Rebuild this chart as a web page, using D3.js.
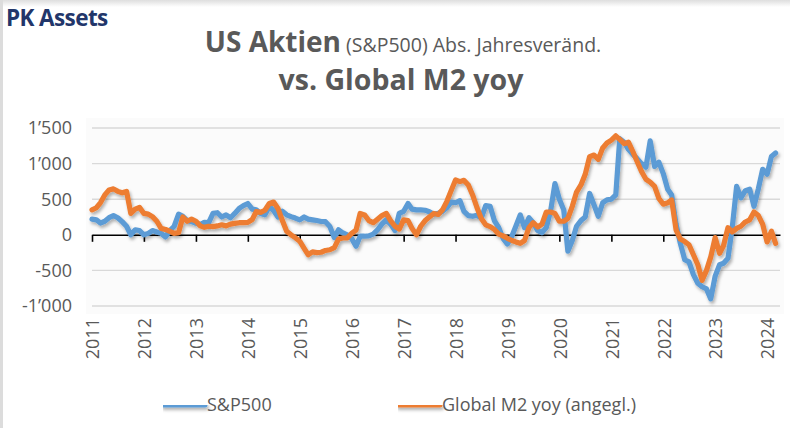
<!DOCTYPE html>
<html>
<head>
<meta charset="utf-8">
<script src="https://cdn.jsdelivr.net/npm/d3@7"></script>
<style>
  html, body { margin: 0; padding: 0; background: #fff; }
  svg { display: block; font-family: "Open Sans", sans-serif; }
</style>
</head>
<body>
<svg id="chart" width="790" height="428"></svg>
<script>
// monthly values, first point Jan 2011
const startMonth = new Date(2011, 0, 1);
const yearTicks = d3.range(2011, 2025);
const yTicks = [-1000, -500, 0, 500, 1000, 1500];

const sp500 = [
  220, 210, 165, 190, 240, 270, 240, 185, 120, 0, 70, 60,
  0, 20, 60, 40, 20, -30, 60, 120, 290, 260, 200, 185,
  163, 145, 175, 170, 300, 310, 250, 280, 240, 300, 370, 410,
  440, 360, 350, 300, 280, 400, 340, 250, 330, 280, 255, 235,
  210, 250, 220, 210, 200, 187, 185, 117, -40, 70, 25, 0,
  -50, -160, -20, -20, -15, 10, 70, 150, 210, 150, 60, 300,
  330, 440, 360, 350, 350, 345, 325, 290, 300, 330, 380, 460,
  450, 480, 330, 270, 260, 275, 235, 410, 400, 200, 100, -50,
  -130, -20, 120, 280, 100, 240, 170, 60, 30, 100, 340, 720,
  500, 350, -230, -80, 120, 200, 250, 580, 420, 260, 450, 490,
  500, 560, 1350, 1300, 1200, 1130, 1070, 1000, 950, 1320, 960, 1020,
  860, 640, 560, 150, -120, -350, -380, -560, -680, -730, -760, -900,
  -580, -420, -400, -330, 100, 680, 520, 620, 640, 400, 650, 920,
  850, 1100, 1150
];

const globalM2 = [
  350, 380, 450, 560, 630, 645, 610, 590, 610, 300, 360, 385,
  300, 290, 255, 190, 90, 75, 50, 20, 30, 250, 190, 220,
  190, 125, 105, 120, 115, 125, 140, 125, 150, 160, 170, 170,
  175, 215, 325, 315, 345, 440, 460, 370, 200, 50, 0, -40,
  -90, -190, -280, -240, -250, -245, -220, -210, -180, -60, -45, -45,
  20, 65, 300, 280, 200, 170, 220, 270, 300, 200, 120, 80,
  210, 200, 90, 0, 120, 200, 250, 300, 285, 350, 470, 620,
  770, 747, 765, 700, 560, 380, 230, 140, 115, 75, 10, -15,
  -50, -80, -100, -120, -80, 100, 170, 110, 150, 320, 320, 300,
  190, 190, 230, 400, 600, 700, 850, 1097, 1120, 1060, 1220, 1290,
  1330, 1390, 1340, 1280, 1300, 1170, 1030, 890, 780, 740, 680, 510,
  430, 450, 490, 70, -60, -95, -140, -280, -420, -640, -500, -310,
  -40, -260, -150, 100, 40, 90, 120, 180, 210, 320, 270, 150,
  -100, 50, -120
];

const seriesNames = ['S&P500', 'Global M2 yoy (angegl.)'];
const seriesColors = ['#5b9bd5', '#ed7d31'];

const svg = d3.select('#chart');
const textGrey = '#595959';

const locale = d3.formatLocale({
  decimal: '.', thousands: '\u2019', grouping: [3], currency: ['', ''], minus: '-'
});
const fmt = locale.format(',d');

// frame
const defs = svg.append('defs');
const topGrad = defs.append('linearGradient')
  .attr('id', 'topGrad').attr('x1', 0).attr('x2', 0).attr('y1', 0).attr('y2', 1);
topGrad.append('stop').attr('offset', '0%').attr('stop-color', '#dedede');
topGrad.append('stop').attr('offset', '100%').attr('stop-color', '#ffffff');
svg.append('rect').attr('x', 0).attr('y', 0).attr('width', 790).attr('height', 7)
  .attr('fill', 'url(#topGrad)');
svg.append('rect').attr('x', 0).attr('y', 0).attr('width', 3).attr('height', 428)
  .attr('fill', '#dcdcdc');

const shadow = defs.append('filter').attr('id', 'shadow')
  .attr('filterUnits', 'userSpaceOnUse')
  .attr('x', 0).attr('y', 0).attr('width', 790).attr('height', 428);
shadow.append('feDropShadow')
  .attr('dx', 1.5).attr('dy', 2.5).attr('stdDeviation', 1.6)
  .attr('flood-color', '#000').attr('flood-opacity', 0.3);

// scales
const x = d3.scaleTime()
  .domain([startMonth, new Date(2024, 3, 1)])
  .range([92, 780]);
const y = d3.scaleLinear()
  .domain([-1000, 1500])
  .range([306, 128]);

const monthDate = i => d3.timeMonth.offset(startMonth, i);

// plot background
svg.append('rect')
  .attr('x', 86).attr('y', 118).attr('width', 698).attr('height', 196)
  .attr('fill', '#fbfbfb');

// titles
svg.append('text')
  .attr('x', 6).attr('y', 26)
  .attr('font-size', 22.5).attr('font-weight', 700)
  .attr('letter-spacing', -0.6)
  .attr('fill', '#22366a')
  .text('PK Assets');

const t1 = svg.append('text')
  .attr('x', 403).attr('y', 52)
  .attr('text-anchor', 'middle')
  .attr('fill', textGrey);
t1.append('tspan').attr('font-size', 28).attr('font-weight', 700).text('US Aktien');
t1.append('tspan').attr('font-size', 19.5).text(' (S&P500) Abs. Jahresveränd.');

svg.append('text')
  .attr('x', 401).attr('y', 90)
  .attr('text-anchor', 'middle')
  .attr('font-size', 28.5).attr('font-weight', 700)
  .attr('fill', textGrey)
  .text('vs. Global M2 yoy');

// gridlines
svg.append('g')
  .selectAll('line')
  .data(yTicks.filter(d => d !== 0))
  .join('line')
    .attr('x1', x.range()[0]).attr('x2', x.range()[1])
    .attr('y1', d => y(d)).attr('y2', d => y(d))
    .attr('stroke', '#d9d9d9').attr('stroke-width', 1.4);

// y axis labels
svg.append('g')
  .selectAll('text')
  .data(yTicks)
  .join('text')
    .attr('x', 72).attr('y', d => y(d))
    .attr('dy', '0.35em')
    .attr('text-anchor', 'end')
    .attr('font-size', 18)
    .attr('fill', textGrey)
    .text(d => fmt(d));

// zero axis with year ticks
const xAxis = d3.axisBottom(x)
  .tickValues(yearTicks.map(yr => new Date(yr, 0, 1)))
  .tickSize(7)
  .tickSizeOuter(0)
  .tickFormat('');
const axisG = svg.append('g')
  .attr('transform', `translate(0,${y(0)})`)
  .call(xAxis);
axisG.select('.domain').attr('stroke', '#000').attr('stroke-width', 1.6);
axisG.selectAll('.tick line').attr('stroke', '#000').attr('stroke-width', 1.6);

// x labels, rotated
svg.append('g')
  .selectAll('text')
  .data(yearTicks)
  .join('text')
    .attr('transform', d => `translate(${x(new Date(d, 0, 1)) + 1},318) rotate(-90)`)
    .attr('dy', '0.35em')
    .attr('text-anchor', 'end')
    .attr('font-size', 18)
    .attr('fill', textGrey)
    .text(d => d);

// lines
const line = d3.line()
  .x((d, i) => x(monthDate(i)))
  .y(d => y(d));

const lines = svg.append('g').attr('filter', 'url(#shadow)');
[sp500, globalM2].forEach((values, k) => {
  lines.append('path')
    .datum(values)
    .attr('d', line)
    .attr('fill', 'none')
    .attr('stroke', seriesColors[k])
    .attr('stroke-width', 5.2)
    .attr('stroke-linejoin', 'round')
    .attr('stroke-linecap', 'round');
});

// legend
const legendX = [163, 398];
const legend = svg.append('g');
seriesNames.forEach((name, k) => {
  const g = legend.append('g').attr('transform', `translate(${legendX[k]},405)`);
  g.append('line')
    .attr('x1', 0).attr('x2', 42)
    .attr('stroke', seriesColors[k])
    .attr('stroke-width', 5)
    .attr('stroke-linecap', 'round')
    .attr('filter', 'url(#shadow)');
  g.append('text')
    .attr('x', 44).attr('dy', '0.35em')
    .attr('font-size', 18)
    .attr('fill', textGrey)
    .text(name);
});
</script>
</body>
</html>
